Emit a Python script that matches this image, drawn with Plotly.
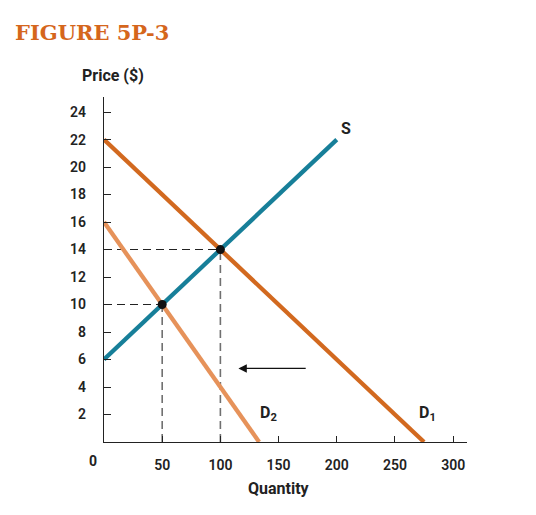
import plotly.graph_objects as go

# Data
supply_q = [0, 200]
supply_p = [6, 22]
d1_q = [0, 275]
d1_p = [22, 0]
d2_q = [0, 133.3]
d2_p = [16, 0]
eq_q = [50, 100]
eq_p = [10, 14]
x_ticks = [50, 100, 150, 200, 250, 300]
y_ticks = [2, 4, 6, 8, 10, 12, 14, 16, 18, 20, 22, 24]

FONT = "Liberation Sans Narrow, Roboto, Arial"
TEAL = "#177f99"
D1C = "#d2691f"
D2C = "#e6925a"

fig = go.Figure()

# dashed guides
for q, p in zip(eq_q, eq_p):
    fig.add_trace(go.Scatter(x=[0, q], y=[p, p], mode="lines",
                             line=dict(color="#222222", width=1.1, dash="8px,5px"),
                             hoverinfo="skip", showlegend=False))
    fig.add_trace(go.Scatter(x=[q, q], y=[0, p], mode="lines",
                             line=dict(color="#707070", width=1.6, dash="8px,5px"),
                             hoverinfo="skip", showlegend=False))

fig.add_trace(go.Scatter(x=d2_q, y=d2_p, mode="lines", line=dict(color=D2C, width=4.3), showlegend=False))
fig.add_trace(go.Scatter(x=d1_q, y=d1_p, mode="lines", line=dict(color=D1C, width=4.3), showlegend=False))
fig.add_trace(go.Scatter(x=supply_q, y=supply_p, mode="lines", line=dict(color=TEAL, width=4.3), showlegend=False))
fig.add_trace(go.Scatter(x=eq_q, y=eq_p, mode="markers",
                         marker=dict(color="#111111", size=9), showlegend=False))

TF = dict(family=FONT, size=14, color="#222", weight=600)
fig.update_xaxes(range=[0, 311.9], tickvals=x_ticks, ticks="inside", ticklen=6,
                 tickcolor="#222", showline=True, linecolor="#222", linewidth=1.3,
                 showgrid=False, zeroline=False, ticklabelstandoff=10, tickfont=TF)
fig.update_yaxes(range=[0, 25.1], tickvals=y_ticks, ticks="inside", ticklen=7,
                 tickcolor="#222", showline=True, linecolor="#222", linewidth=1.3,
                 showgrid=False, zeroline=False, ticklabelstandoff=14, tickfont=TF)

anns = [
    dict(text="<b>FIGURE 5P-3</b>", xref="paper", yref="paper", x=-91/363, y=1 + 65/345,
         xanchor="left", yanchor="middle", showarrow=False,
         font=dict(family="DejaVu Serif", size=21, color="#d5661c")),
    dict(text="<b>Price ($)</b>", xref="paper", yref="paper", x=-24/363, y=1 + 21/345,
         xanchor="left", yanchor="middle", showarrow=False,
         font=dict(family=FONT, size=16, color="#222")),
    dict(text="<b>Quantity</b>", x=150, xref="x", yref="paper", y=-46/345,
         xanchor="center", yanchor="middle", showarrow=False,
         font=dict(family=FONT, size=16, color="#222")),
    dict(text="<b>0</b>", xref="paper", yref="paper", x=-11/363, y=-19/345,
         xanchor="center", yanchor="middle", showarrow=False,
         font=dict(family=FONT, size=14, color="#222")),
    dict(text="<b>S</b>", x=208, y=22.8, showarrow=False,
         font=dict(family=FONT, size=16, color="#222")),
    dict(text="<b>D<sub>2</sub></b>", x=141, y=2.1, showarrow=False,
         font=dict(family=FONT, size=16, color="#222")),
    dict(text="<b>D<sub>1</sub></b>", x=278, y=2.1, showarrow=False,
         font=dict(family=FONT, size=16, color="#222")),
    dict(x=115.5, y=5.35, ax=174.6, ay=5.35, xref="x", yref="y", axref="x", ayref="y",
         text="", showarrow=True, arrowhead=2, arrowsize=1.4, arrowwidth=1.2, arrowcolor="#111"),
]
fig.update_layout(annotations=anns, width=528, height=507,
                  margin=dict(l=96, r=69, t=89, b=73),
                  plot_bgcolor="white", paper_bgcolor="white")

fig.write_html("out.html")
